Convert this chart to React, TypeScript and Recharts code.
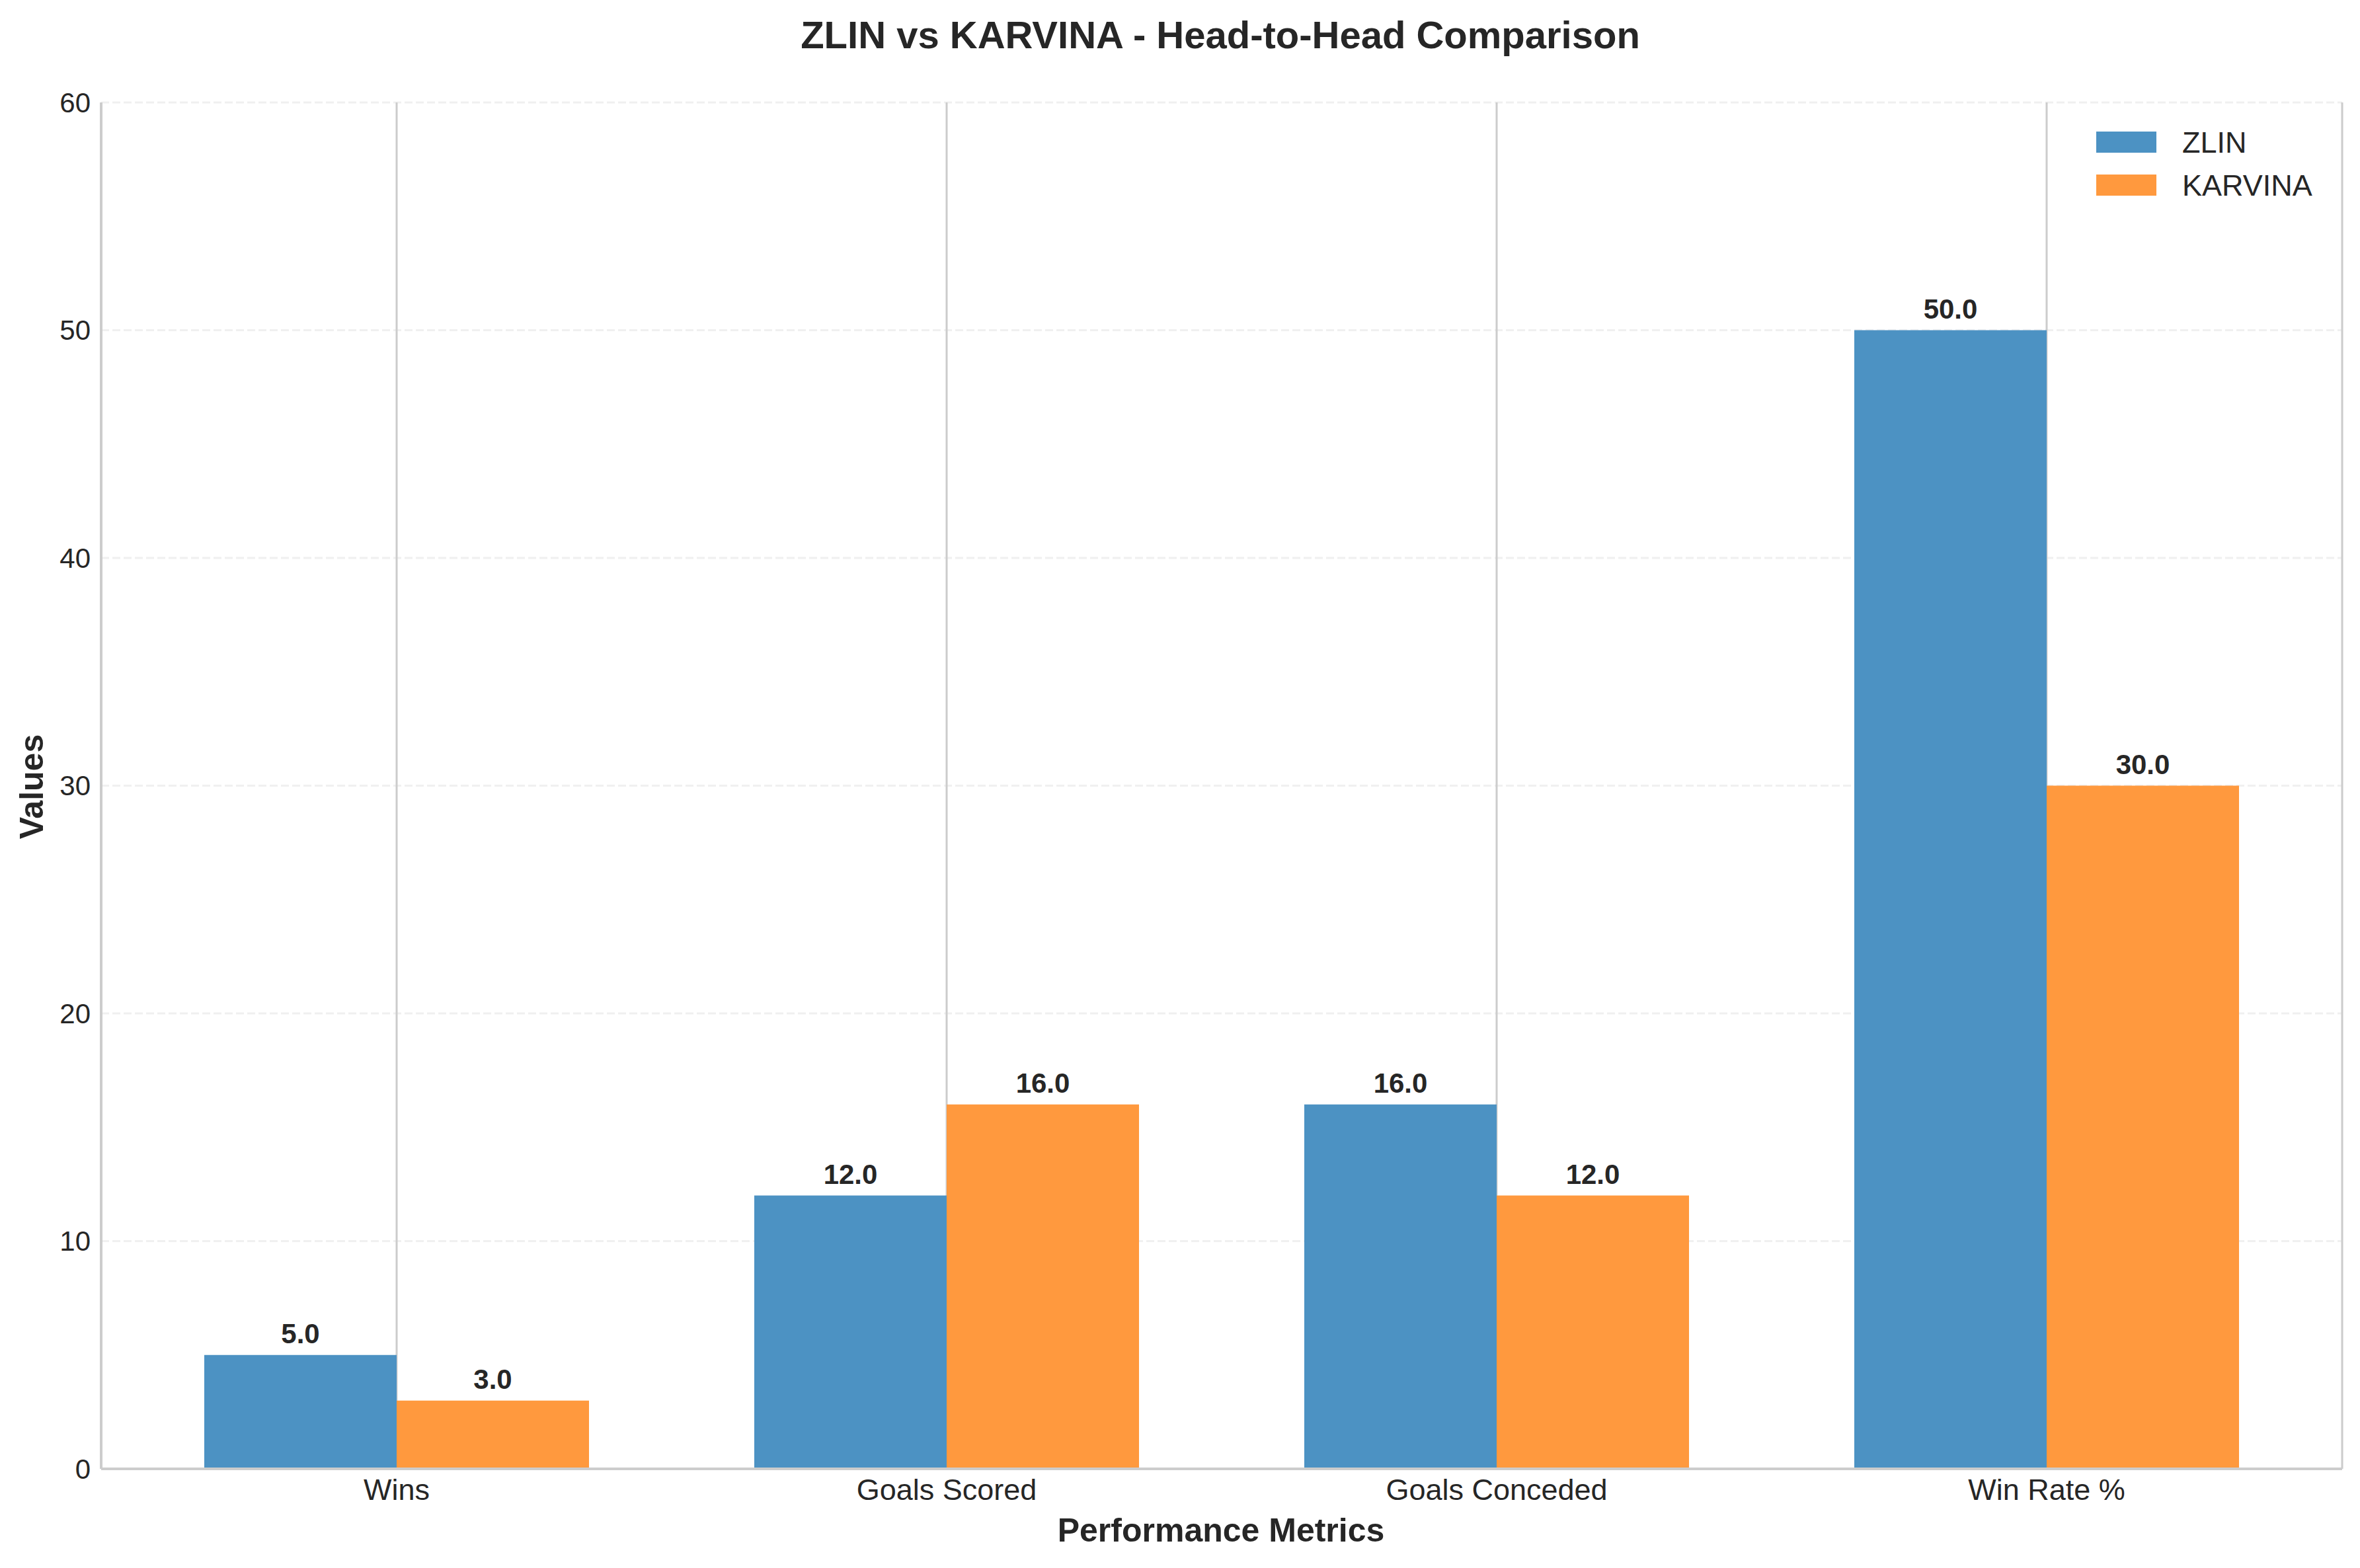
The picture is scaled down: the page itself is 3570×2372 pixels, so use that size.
import React from "react";
import {
  BarChart,
  Bar,
  XAxis,
  YAxis,
  CartesianGrid,
  LabelList,
} from "recharts";

const metrics = ["Wins", "Goals Scored", "Goals Conceded", "Win Rate %"];
const zlinValues = [5, 12, 16, 50];
const karvinaValues = [3, 16, 12, 30];
const teamNames = ["ZLIN", "KARVINA"];
const teamColors = ["#4C92C3", "#FF993E"];
const yTicks = [0, 10, 20, 30, 40, 50, 60];

const data = metrics.map((m, i) => ({
  metric: m,
  zlin: zlinValues[i],
  karvina: karvinaValues[i],
}));

const FONT = "'Liberation Sans', Arial, Helvetica, sans-serif";
const INK = "#262626";

const fmt = (v: any) => Number(v).toFixed(1);

export default function App() {
  return (
    <div
      style={{
        position: "absolute",
        left: 0,
        top: 0,
        width: 3570,
        height: 2372,
        background: "#ffffff",
        fontFamily: FONT,
      }}
    >
      <BarChart
        width={3570}
        height={2372}
        data={data}
        margin={{ top: 155, right: 27, bottom: 90, left: 33 }}
        barGap={0}
        barSize={291}
      >
        <CartesianGrid
          horizontal={true}
          vertical={false}
          stroke="#f0f0f0"
          strokeWidth={3}
          strokeDasharray="12 5"
        />
        <CartesianGrid
          horizontal={false}
          vertical={true}
          stroke="#cccccc"
          strokeWidth={3}
        />

        <XAxis
          dataKey="metric"
          height={60}
          padding={{ left: 31, right: 31 }}
          tickLine={false}
          tickSize={0}
          tickMargin={15}
          axisLine={{ stroke: "#cccccc", strokeWidth: 4 }}
          tick={{ fontSize: 45, fill: INK, fontFamily: FONT }}
          interval={0}
        />

        <YAxis
          width={120}
          domain={[0, 60]}
          ticks={yTicks}
          tickLine={false}
          tickSize={0}
          tickMargin={16}
          axisLine={{ stroke: "#cccccc", strokeWidth: 4 }}
          tick={{ fontSize: 42, fill: INK, fontFamily: FONT }}
        />

        <Bar dataKey="zlin" name={teamNames[0]} fill={teamColors[0]} isAnimationActive={false}>
          <LabelList
            dataKey="zlin"
            position="top"
            offset={18}
            formatter={fmt}
            fontSize={42}
            fontWeight="bold"
            fill={INK}
            fontFamily={FONT}
          />
        </Bar>
        <Bar dataKey="karvina" name={teamNames[1]} fill={teamColors[1]} isAnimationActive={false}>
          <LabelList
            dataKey="karvina"
            position="top"
            offset={18}
            formatter={fmt}
            fontSize={42}
            fontWeight="bold"
            fill={INK}
            fontFamily={FONT}
          />
        </Bar>
      </BarChart>

      {/* title, axis titles and legend */}
      <svg
        width={3570}
        height={2372}
        style={{ position: "absolute", left: 0, top: 0, pointerEvents: "none" }}
      >
        <text
          x={1846}
          y={73}
          textAnchor="middle"
          fontSize={58}
          fontWeight="bold"
          fill={INK}
          fontFamily={FONT}
        >
          ZLIN vs KARVINA - Head-to-Head Comparison
        </text>

        <text
          x={1847}
          y={2332}
          textAnchor="middle"
          fontSize={50}
          fontWeight="bold"
          fill={INK}
          fontFamily={FONT}
        >
          Performance Metrics
        </text>

        <text
          x={65}
          y={1190}
          transform="rotate(-90 65 1190)"
          textAnchor="middle"
          fontSize={50}
          fontWeight="bold"
          fill={INK}
          fontFamily={FONT}
        >
          Values
        </text>

        {teamNames.map((name, i) => (
          <g key={name}>
            <rect
              x={3171}
              y={199 + i * 65}
              width={91}
              height={32}
              fill={teamColors[i]}
            />
            <text
              x={3301}
              y={231 + i * 65}
              fontSize={45}
              fill={INK}
              fontFamily={FONT}
            >
              {name}
            </text>
          </g>
        ))}
      </svg>
    </div>
  );
}
